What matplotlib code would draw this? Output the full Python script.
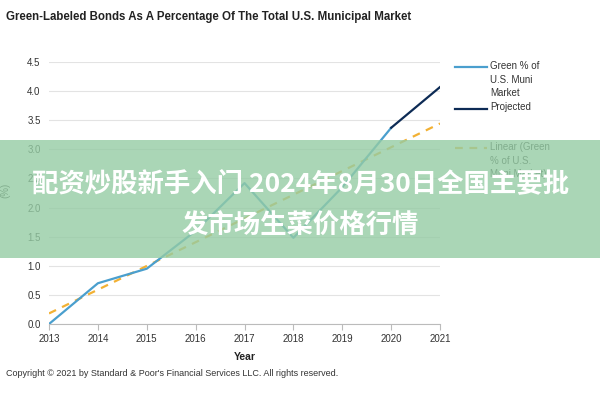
import numpy as np
import matplotlib.pyplot as plt
from matplotlib.patches import Rectangle
from matplotlib.lines import Line2D

plt.rcParams['font.family'] = ['Liberation Sans Narrow', 'Liberation Sans', 'DejaVu Sans']

years = [2013, 2014, 2015, 2016, 2017, 2018, 2019, 2020]
green_pct = [0.0, 0.7, 0.95, 1.6, 2.42, 1.48, 2.35, 3.37]
proj_years = [2020, 2021]
proj_pct = [3.37, 4.07]

title = "Green-Labeled Bonds As A Percentage Of The Total U.S. Municipal Market"
source = "Copyright \u00a9 2021 by Standard & Poor's Financial Services LLC. All rights reserved."
overlay = "配资炒股新手入门 2024年8月30日全国主要批\n发市场生菜价格行情"

c_green = '#4a9fce'
c_proj = '#0d2b55'
c_trend = '#f2b134'

fig = plt.figure(figsize=(6, 4), dpi=100)
ax = fig.add_axes([0.0817, 0.19, 0.6517, 0.655])

# trend line (Excel style linear fit, extended to 2021)
k, b = np.polyfit(years, green_pct, 1)
trend_x = np.array([2013, 2021])
ax.plot(trend_x, k * trend_x + b, color=c_trend, lw=1.6, ls=(0, (3.5, 3)), zorder=2)
ax.plot(years, green_pct, color=c_green, lw=1.6, zorder=3)
ax.plot(proj_years, proj_pct, color=c_proj, lw=1.6, zorder=3)

ax.set_xlim(2013, 2021)
ax.set_ylim(0, 4.5)
ax.set_xticks(range(2013, 2022))
ax.set_yticks(np.arange(0, 4.51, 0.5))
ax.yaxis.set_major_formatter(plt.FuncFormatter(lambda v, p: f"{v:.1f}"))
ax.tick_params(axis='y', length=0, labelsize=7, colors='#333333', pad=6)
ax.tick_params(axis='x', length=4, color='#bbbbbb', labelsize=7, colors='#333333', pad=3)
ax.grid(axis='y', color='#e3e3e3', lw=0.8)
ax.set_axisbelow(True)
for s in ['top', 'right', 'left']:
    ax.spines[s].set_visible(False)
ax.spines['bottom'].set_color('#bbbbbb')

ax.set_xlabel('Year', fontsize=7.5, fontweight='bold', color='#222222', labelpad=6)
ax.set_ylabel('(%)', fontsize=7, color='#333333')
ax.yaxis.set_label_coords(-0.1, 0.51)

# legend drawn by hand so the key sits on the first line of each label
legend_items = [
    ('Green % of\nU.S. Muni\nMarket', c_green, '-', 67),
    ('Projected', c_proj, '-', 108.5),
    ('Linear (Green\n% of U.S.\nMuni Market)', c_trend, (0, (3.5, 3)), 148),
]
for label, col, ls, ypx in legend_items:
    yf = 1 - ypx / 400
    fig.add_artist(Line2D([455 / 600, 487 / 600], [yf, yf], transform=fig.transFigure,
                          color=col, lw=1.6, ls=ls))
    fig.text(490 / 600, yf + 6 / 400, label, fontsize=7, color='#333333', va='top',
             linespacing=1.45)

fig.text(0.01, 0.957, title, fontsize=8.3, fontweight='bold', color='#222222', va='center')
fig.text(0.01, 0.067, source, fontsize=6.5, color='#333333', va='center')

# watermark band
fig.patches.append(Rectangle((0, 0.355), 1, 0.295, transform=fig.transFigure,
                             facecolor='#95cca4', alpha=0.8, edgecolor='none', zorder=10))
fig.text(0.5, 0.488, overlay, ha='center', va='center', fontsize=19, fontweight='bold',
         color='white', linespacing=1.75, zorder=11,
         family=['Noto Sans CJK SC', 'DejaVu Sans'])

fig.savefig('out.png', dpi=100)
